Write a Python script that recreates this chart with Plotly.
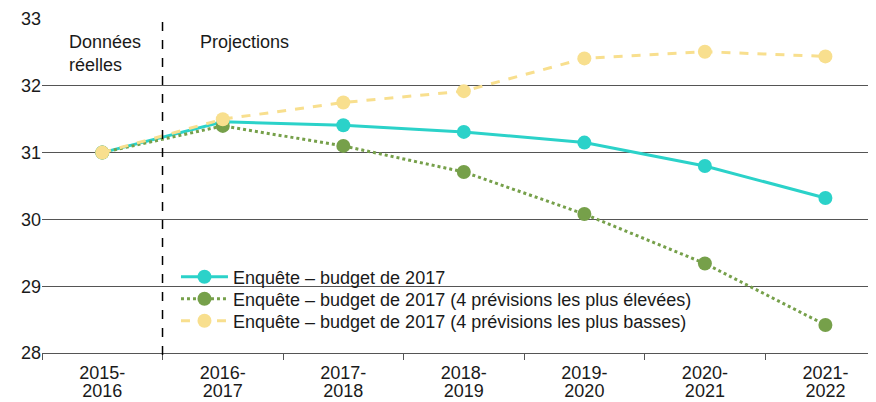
import plotly.graph_objects as go

categories = ["2015-2016", "2016-2017", "2017-2018", "2018-2019",
              "2019-2020", "2020-2021", "2021-2022"]
tick_line1 = ["2015-", "2016-", "2017-", "2018-", "2019-", "2020-", "2021-"]
tick_line2 = ["2016", "2017", "2018", "2019", "2020", "2021", "2022"]
budget_2017 = [31.0, 31.46, 31.41, 31.31, 31.15, 30.80, 30.32]
budget_2017_high = [31.0, 31.40, 31.10, 30.71, 30.08, 29.34, 28.42]
budget_2017_low = [31.0, 31.50, 31.75, 31.92, 32.41, 32.51, 32.44]

series_names = ["Enquête – budget de 2017",
                "Enquête – budget de 2017 (4 prévisions les plus élevées)",
                "Enquête – budget de 2017 (4 prévisions les plus basses)"]

FONT = "Arial, Liberation Sans, sans-serif"
TXT = "#1a1a1a"
TEAL, GREEN, YELLOW = "#2BD2C9", "#76A04A", "#F8DF8E"

fig = go.Figure()
fig.add_trace(go.Scatter(
    x=categories, y=budget_2017, name=series_names[0], mode="lines+markers",
    line=dict(color=TEAL, width=3), marker=dict(size=14, color=TEAL),
    legend="legend"))
fig.add_trace(go.Scatter(
    x=categories, y=budget_2017_high, name=series_names[1], mode="lines+markers",
    line=dict(color=GREEN, width=3, dash="dot"), marker=dict(size=14, color=GREEN),
    legend="legend2"))
fig.add_trace(go.Scatter(
    x=categories, y=budget_2017_low, name=series_names[2], mode="lines+markers",
    line=dict(color=YELLOW, width=3, dash="dash"), marker=dict(size=14, color=YELLOW),
    legend="legend3"))
# invisible trace carrying the second row of category labels
fig.add_trace(go.Scatter(
    x=categories, y=budget_2017, xaxis="x2", mode="lines",
    line=dict(width=0, color="rgba(0,0,0,0)"), showlegend=False, hoverinfo="skip"))

# white legend background hiding the gridline
fig.add_shape(type="rect", xref="paper", yref="paper", x0=0.1546, x1=0.787,
              y0=0.063, y1=0.26, fillcolor="white", line=dict(width=0),
              layer="between")
fig.add_shape(type="line", xref="x", yref="paper", x0=0.5, x1=0.5, y0=-0.006, y1=1,
              line=dict(color="black", width=1.5, dash="dash"))

fig.add_annotation(x=0.0302, y=0.896, xref="paper", yref="paper",
                   text="Données<br>réelles", showarrow=False, xanchor="left",
                   yanchor="middle", align="left", font=dict(size=18, color=TXT))
fig.add_annotation(x=0.1884, y=0.931, xref="paper", yref="paper",
                   text="Projections", showarrow=False, xanchor="left",
                   yanchor="middle", font=dict(size=18, color=TXT))

leg_common = dict(x=0.1618, xanchor="left", yanchor="top",
                  bgcolor="rgba(0,0,0,0)", itemwidth=47,
                  font=dict(size=18, color=TXT, family=FONT), borderwidth=0)
legend_tops = [0.2829, 0.2171, 0.1512]

x_common = dict(type="category", categoryarray=categories, range=[-0.5, 6.37],
                showgrid=False, tickvals=categories, automargin=False)

fig.update_layout(
    width=876, height=402,
    margin=dict(l=34, r=14, t=11, b=57, autoexpand=False),
    paper_bgcolor="white", plot_bgcolor="white",
    font=dict(family=FONT, size=18, color=TXT),
    showlegend=True,
    legend=dict(y=legend_tops[0], **leg_common),
    legend2=dict(y=legend_tops[1], **leg_common),
    legend3=dict(y=legend_tops[2], **leg_common),
    xaxis=dict(**x_common, ticktext=tick_line1, tickson="boundaries",
               ticks="outside", ticklen=6, tickcolor="#555",
               showline=True, linecolor="#555", linewidth=1,
               tickfont=dict(size=18, color=TXT), ticklabelstandoff=3),
    xaxis2=dict(**x_common, ticktext=tick_line2, overlaying="x", anchor="y",
                side="bottom", ticks="", showline=False,
                tickfont=dict(size=18, color=TXT), ticklabelstandoff=25),
    yaxis=dict(range=[28, 33], dtick=1, showgrid=True, gridcolor="#555",
               gridwidth=1, zeroline=False, ticks="", automargin=False,
               tickfont=dict(size=18, color=TXT), ticklabelstandoff=0),
)

fig.write_html("out.html")
